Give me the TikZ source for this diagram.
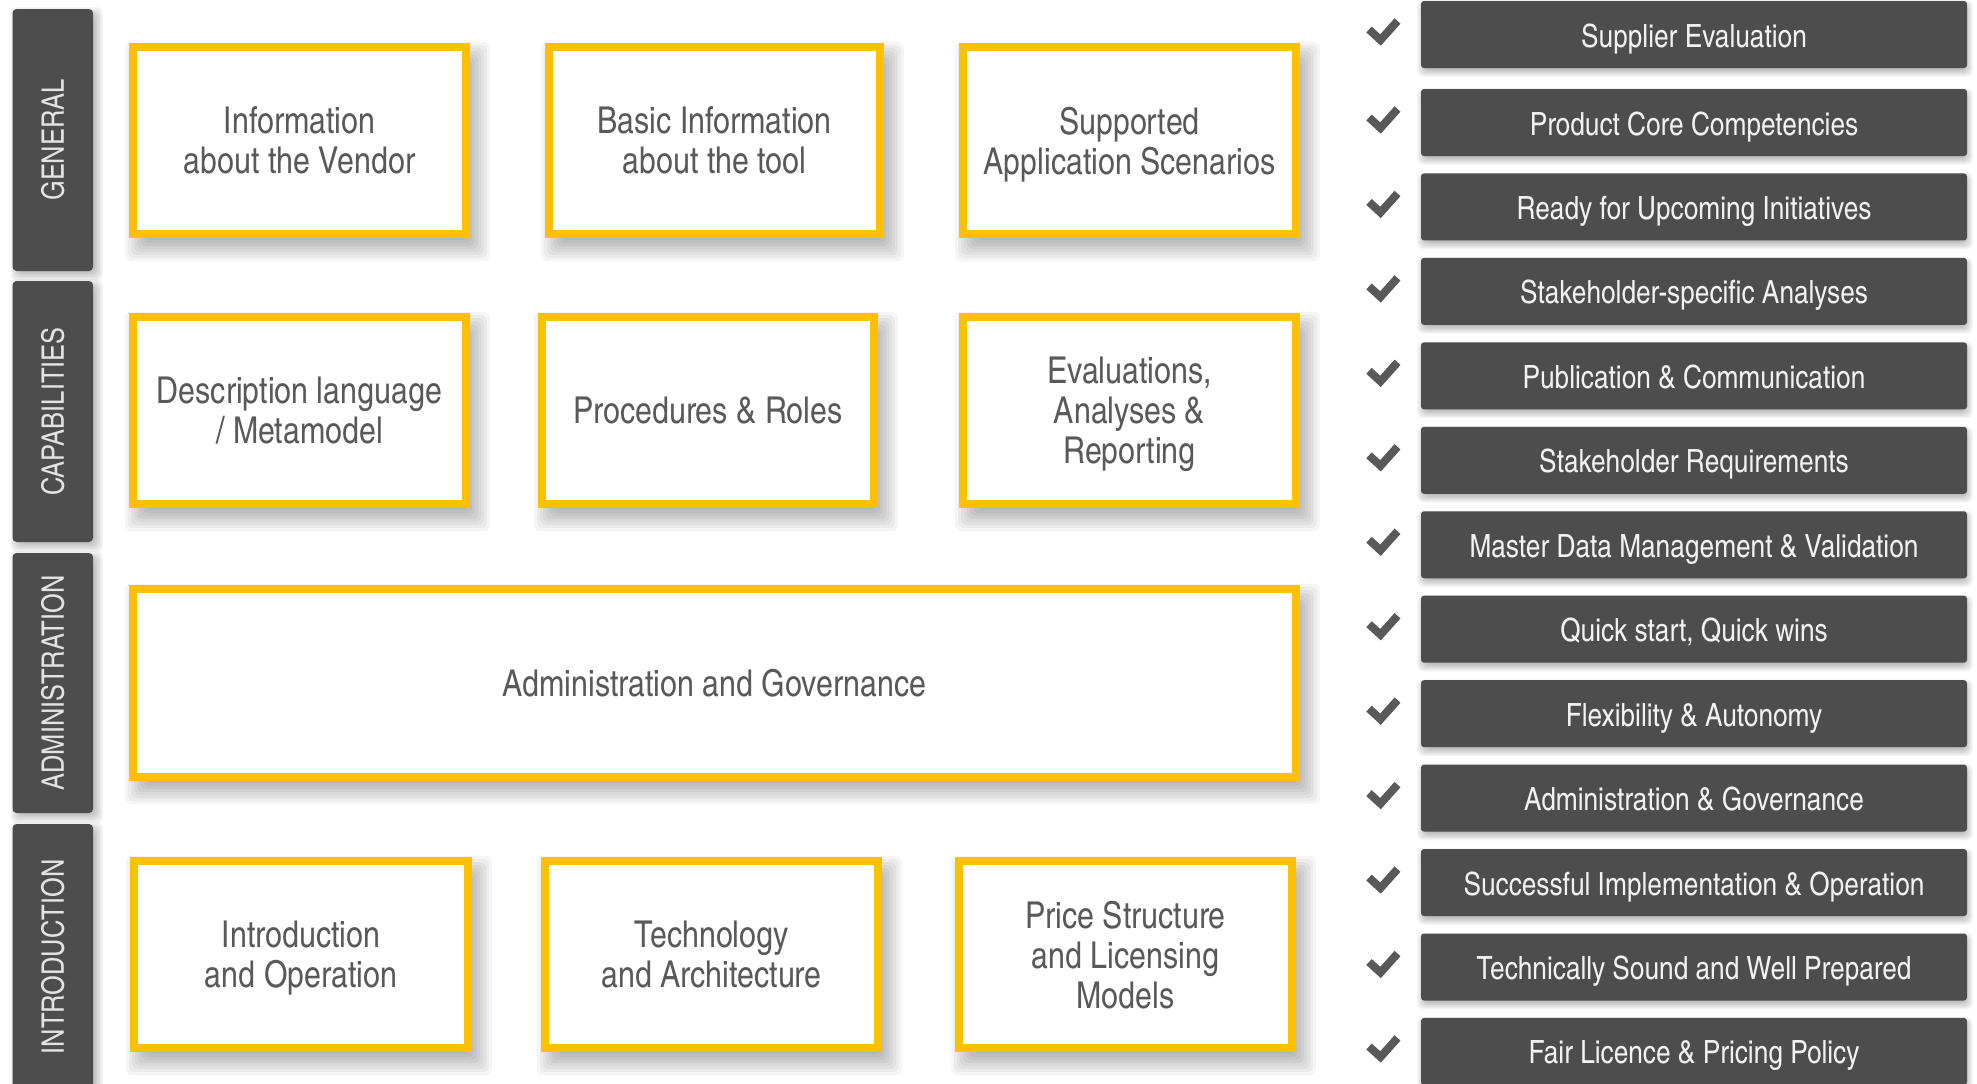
\documentclass[tikz,border=0pt]{standalone}
\usepackage{fontspec}
\IfFontExistsTF{TeX Gyre Heros Cn}{\setmainfont{TeX Gyre Heros Cn}}{\setmainfont{Liberation Sans}[FakeStretch=0.82]}
\definecolor{dark}{HTML}{4D4D4D}
\definecolor{yel}{HTML}{FFC000}
\definecolor{boxtxt}{HTML}{595959}
\definecolor{chkcol}{HTML}{595959}
\definecolor{lite}{HTML}{F2F2F2}
\definecolor{sidetxt}{HTML}{E3E3E3}
% soft shadow: x1 y1 x2 y2 dx dy spread
\newcommand{\shadowrect}[7]{%
  \foreach \k in {-4,...,4}{%
    \fill[black,opacity=0.04,rounded corners=3pt]
      ({#1+#5-(\k)*#7},{#2+#6-(\k)*#7}) rectangle ({#3+#5+(\k)*#7},{#4+#6+(\k)*#7});
  }}
\newcommand{\ybox}[6]{%
  \shadowrect{#2}{#3}{#4}{#5}{8}{11}{3}
  \pgfmathsetmacro\bw{(#4-#2-8)*0.5}
  \pgfmathsetmacro\bh{(#5-#3-8)*0.5}
  \node[ybox, minimum width=\bw pt, minimum height=\bh pt] (#1) at ({(#2+#4)/2},{(#3+#5)/2}) {#6};
}
\newcommand{\sidebar}[4]{% name y1 y2 text
  \shadowrect{12.5}{#2}{93}{#3}{4}{4}{1.5}
  \pgfmathsetmacro\sl{(#3-#2)*0.5}
  \node[sbox, minimum width=\sl pt] (#1) at (52.75,{(#2+#3)/2}) {#4};
}
\begin{document}
\begin{tikzpicture}[x=0.5pt,y=-0.5pt,
  ybox/.style={draw=yel, line width=4pt, fill=white, inner sep=0pt, text=boxtxt,
    font=\fontsize{18.5}{20}\selectfont, align=center, text depth=0pt},
  rbox/.style={fill=dark, rounded corners=1.5pt, minimum width=273pt, minimum height=33.5pt,
    inner sep=0pt, text=lite, font=\fontsize{16}{18}\selectfont,
    text height=12.5pt, text depth=0pt},
  sbox/.style={fill=dark, rounded corners=2pt, rotate=90, minimum height=40.25pt,
    inner sep=0pt, text=sidetxt, font=\fontsize{15.5}{17}\selectfont},
  chk/.style={draw=chkcol, line width=4pt, line cap=butt, line join=miter}]
\useasboundingbox (0,0) rectangle (1977,1083);
\clip (0,0) rectangle (1977,1083);
\fill[white] (0,0) rectangle (1977,1083);

% side bars
\sidebar{s1}{9}{271}{GENERAL}
\sidebar{s2}{281}{542}{CAPABILITIES}
\sidebar{s3}{553}{813}{ADMINISTRATION}
\sidebar{s4}{824}{1090}{INTRODUCTION}

% yellow boxes
\ybox{g1}{129}{43}{470}{238}{Information\\about the Vendor}
\ybox{g2}{545}{43}{884}{238}{Basic Information\\about the tool}
\ybox{g3}{959}{43}{1300}{238}{Supported\\Application Scenarios}
\ybox{c1}{129}{313}{470}{508}{Description language\\/ Metamodel}
\ybox{c2}{538}{313}{878}{508}{Procedures \& Roles}
\ybox{c3}{959}{313}{1300}{508}{Evaluations,\\Analyses \&\\Reporting}
\ybox{a1}{129}{585}{1300}{781}{Administration and Governance}
\ybox{i1}{130}{857}{472}{1052}{Introduction\\and Operation}
\ybox{i2}{541}{857}{882}{1052}{Technology\\and Architecture}
\ybox{i3}{955}{857}{1296}{1052}{Price Structure\\and Licensing\\Models}

% right list
\foreach \t [count=\i from 0] in {Supplier Evaluation, Product Core Competencies,
  Ready for Upcoming Initiatives, Stakeholder-specific Analyses,
  Publication \& Communication, Stakeholder Requirements,
  Master Data Management \& Validation, {Quick start, Quick wins},
  Flexibility \& Autonomy, Administration \& Governance,
  Successful Implementation \& Operation, Technically Sound and Well Prepared,
  Fair Licence \& Pricing Policy}{
  \pgfmathsetmacro\cy{ifthenelse(\i==0,34.5,122.5+84.45*(\i-1))}
  \shadowrect{1421}{\cy-33.5}{1967}{\cy+33.5}{1}{4}{1.2}
  \node[rbox] (r\i) at (1694,\cy) {\t};
  \coordinate (ka\i) at (1369,\cy-5);
  \coordinate (kb\i) at (1380.5,\cy+5.5);
  \coordinate (kc\i) at (1397.5,\cy-13.5);
  \draw[chk] (ka\i) -- (kb\i) -- (kc\i);
}
\end{tikzpicture}
\end{document}
